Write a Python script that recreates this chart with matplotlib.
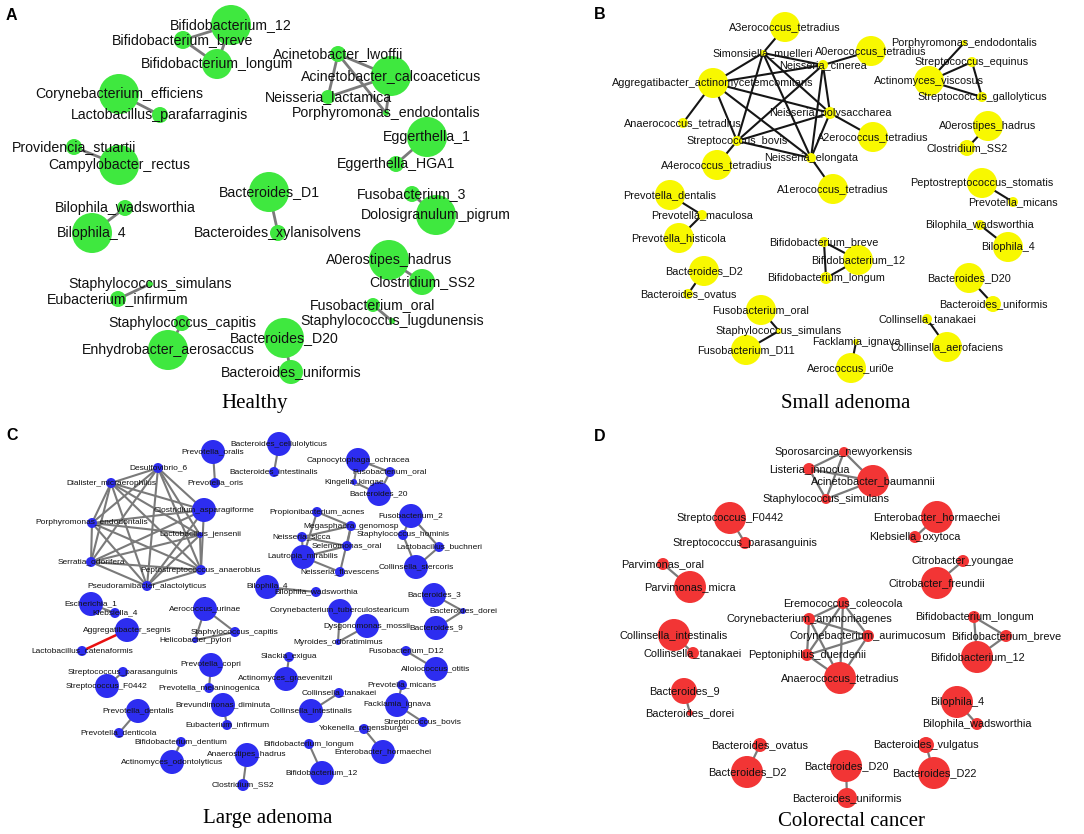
import matplotlib
matplotlib.use("Agg")
import matplotlib.pyplot as plt
from matplotlib.collections import LineCollection, PatchCollection
from matplotlib.patches import Circle

# ---------------- Panel A : Healthy ----------------
names_A = ["Bifidobacterium_12", "Bifidobacterium_breve", "Bifidobacterium_longum",
           "Acinetobacter_lwoffii", "Acinetobacter_calcoaceticus", "Neisseria_lactamica",
           "Porphyromonas_endodontalis", "Corynebacterium_efficiens", "Lactobacillus_parafarraginis",
           "Providencia_stuartii", "Campylobacter_rectus", "Eggerthella_1", "Eggerthella_HGA1",
           "Bacteroides_D1", "Bacteroides_xylanisolvens", "Fusobacterium_3", "Dolosigranulum_pigrum",
           "Bilophila_wadsworthia", "Bilophila_4", "A0erostipes_hadrus", "Clostridium_SS2",
           "Staphylococcus_simulans", "Eubacterium_infirmum", "Fusobacterium_oral",
           "Staphylococcus_lugdunensis", "Staphylococcus_capitis", "Enhydrobacter_aerosaccus",
           "Bacteroides_D20", "Bacteroides_uniformis"]
x_A = [231, 183, 217, 338, 391, 328, 386, 119, 160, 74, 119, 427, 396, 269, 278, 412, 436,
       125, 92, 389, 422, 150, 118, 373, 392, 182, 168, 284, 291]
y_A = [25, 40, 64, 54, 76, 97, 113, 94, 115, 147, 165, 137, 164, 192, 233, 194, 215,
       208, 233, 260, 282, 284, 299, 305, 321, 323, 350, 338, 372]
r_A = [20, 9, 15, 8, 20, 7, 3, 20, 8, 8, 20, 20, 8, 20, 8, 8, 20,
       8, 20, 20, 13, 3, 8, 7, 3, 8, 20, 20, 12]
edges_A = [("Bifidobacterium_12", "Bifidobacterium_breve"),
           ("Bifidobacterium_12", "Bifidobacterium_longum"),
           ("Bifidobacterium_breve", "Bifidobacterium_longum"),
           ("Acinetobacter_lwoffii", "Acinetobacter_calcoaceticus"),
           ("Acinetobacter_lwoffii", "Neisseria_lactamica"),
           ("Acinetobacter_lwoffii", "Porphyromonas_endodontalis"),
           ("Neisseria_lactamica", "Acinetobacter_calcoaceticus"),
           ("Acinetobacter_calcoaceticus", "Porphyromonas_endodontalis"),
           ("Corynebacterium_efficiens", "Lactobacillus_parafarraginis"),
           ("Providencia_stuartii", "Campylobacter_rectus"),
           ("Eggerthella_1", "Eggerthella_HGA1"),
           ("Bacteroides_D1", "Bacteroides_xylanisolvens"),
           ("Fusobacterium_3", "Dolosigranulum_pigrum"),
           ("Bilophila_wadsworthia", "Bilophila_4"),
           ("A0erostipes_hadrus", "Clostridium_SS2"),
           ("Staphylococcus_simulans", "Eubacterium_infirmum"),
           ("Fusobacterium_oral", "Staphylococcus_lugdunensis"),
           ("Staphylococcus_capitis", "Enhydrobacter_aerosaccus"),
           ("Bacteroides_D20", "Bacteroides_uniformis")]

# ---------------- Panel B : Small adenoma ----------------
names_B = ["A3erococcus_tetradius", "Simonsiella_muelleri", "A0erococcus_tetradius",
           "Neisseria_cinerea", "Aggregatibacter_actinomycetemcomitans", "Anaerococcus_tetradius",
           "Neisseria_polysaccharea", "A2erococcus_tetradius", "Streptococcus_bovis",
           "A4erococcus_tetradius", "Neisseria_elongata", "A1erococcus_tetradius",
           "Porphyromonas_endodontalis", "Streptococcus_equinus", "Actinomyces_viscosus",
           "Streptococcus_gallolyticus", "A0erostipes_hadrus", "Clostridium_SS2",
           "Peptostreptococcus_stomatis", "Prevotella_micans", "Prevotella_dentalis",
           "Prevotella_maculosa", "Prevotella_histicola", "Bacteroides_D2", "Bacteroides_ovatus",
           "Bifidobacterium_breve", "Bifidobacterium_12", "Bifidobacterium_longum",
           "Fusobacterium_oral", "Staphylococcus_simulans", "Fusobacterium_D11",
           "Facklamia_ignava", "Aerococcus_uri0e", "Bilophila_wadsworthia", "Bilophila_4",
           "Bacteroides_D20", "Bacteroides_uniformis", "Collinsella_tanakaei",
           "Collinsella_aerofaciens"]
x_B = [785, 763, 871, 823, 713, 683, 830, 873, 737, 717, 811, 833,
       964, 972, 929, 982, 988, 967, 982, 1013, 670, 702, 679, 704, 688,
       824, 858, 826, 761, 779, 746, 856, 851, 980, 1008, 969, 993, 927, 947]
y_B = [27, 53, 51, 65, 83, 123, 113, 137, 141, 165, 158, 189,
       43, 62, 81, 97, 126, 148, 183, 202, 195, 215, 238, 271, 294,
       242, 260, 278, 310, 331, 350, 342, 368, 225, 247, 278, 304, 319, 347]
r_B = [15, 3, 15, 5, 15, 5, 6, 15, 5, 15, 5, 15,
       3, 5, 15, 5, 15, 8, 15, 5, 15, 5, 15, 15, 5,
       5, 15, 6, 15, 3, 15, 3, 15, 5, 15, 15, 8, 5, 15]
edges_B = [("A3erococcus_tetradius", "Simonsiella_muelleri"),
           ("Simonsiella_muelleri", "Aggregatibacter_actinomycetemcomitans"),
           ("Simonsiella_muelleri", "Neisseria_cinerea"),
           ("Simonsiella_muelleri", "Neisseria_polysaccharea"),
           ("Simonsiella_muelleri", "Streptococcus_bovis"),
           ("Simonsiella_muelleri", "Neisseria_elongata"),
           ("Aggregatibacter_actinomycetemcomitans", "Neisseria_cinerea"),
           ("Aggregatibacter_actinomycetemcomitans", "Anaerococcus_tetradius"),
           ("Aggregatibacter_actinomycetemcomitans", "Neisseria_polysaccharea"),
           ("Aggregatibacter_actinomycetemcomitans", "Streptococcus_bovis"),
           ("Aggregatibacter_actinomycetemcomitans", "Neisseria_elongata"),
           ("Neisseria_cinerea", "Streptococcus_bovis"),
           ("Neisseria_cinerea", "Neisseria_elongata"),
           ("Neisseria_cinerea", "Neisseria_polysaccharea"),
           ("Neisseria_cinerea", "A0erococcus_tetradius"),
           ("Neisseria_polysaccharea", "Streptococcus_bovis"),
           ("Neisseria_polysaccharea", "A2erococcus_tetradius"),
           ("Neisseria_polysaccharea", "Neisseria_elongata"),
           ("Streptococcus_bovis", "Neisseria_elongata"),
           ("Streptococcus_bovis", "A4erococcus_tetradius"),
           ("Neisseria_elongata", "A1erococcus_tetradius"),
           ("Porphyromonas_endodontalis", "Actinomyces_viscosus"),
           ("Streptococcus_equinus", "Actinomyces_viscosus"),
           ("Streptococcus_equinus", "Streptococcus_gallolyticus"),
           ("Actinomyces_viscosus", "Streptococcus_gallolyticus"),
           ("A0erostipes_hadrus", "Clostridium_SS2"),
           ("Peptostreptococcus_stomatis", "Prevotella_micans"),
           ("Prevotella_dentalis", "Prevotella_maculosa"),
           ("Prevotella_maculosa", "Prevotella_histicola"),
           ("Bacteroides_D2", "Bacteroides_ovatus"),
           ("Bifidobacterium_breve", "Bifidobacterium_12"),
           ("Bifidobacterium_breve", "Bifidobacterium_longum"),
           ("Bifidobacterium_12", "Bifidobacterium_longum"),
           ("Fusobacterium_oral", "Staphylococcus_simulans"),
           ("Staphylococcus_simulans", "Fusobacterium_D11"),
           ("Facklamia_ignava", "Aerococcus_uri0e"),
           ("Bilophila_wadsworthia", "Bilophila_4"),
           ("Bacteroides_D20", "Bacteroides_uniformis"),
           ("Collinsella_tanakaei", "Collinsella_aerofaciens")]

# ---------------- Panel C : Large adenoma ----------------
names_C = ["Prevotella_oralis", "Prevotella_oris", "Bacteroides_cellulolyticus",
           "Bacteroides_intestinalis", "Desulfovibrio_6", "Dialister_micraerophilus",
           "Clostridium_asparagiforme", "Porphyromonas_endodontalis", "Lactobacillus_jensenii",
           "Serratia_odorifera", "Peptostreptococcus_anaerobius", "Pseudoramibacter_alactolyticus",
           "Escherichia_1", "Klebsiella_4", "Aggregatibacter_segnis", "Lactobacillus_catenaformis",
           "Aerococcus_urinae", "Staphylococcus_capitis", "Helicobacter_pylori",
           "Prevotella_copri", "Prevotella_melaninogenica", "Streptococcus_parasanguinis",
           "Streptococcus_F0442", "Prevotella_dentalis", "Prevotella_denticola",
           "Brevundimonas_diminuta", "Eubacterium_infirmum", "Bifidobacterium_dentium",
           "Actinomyces_odontolyticus", "Anaerostipes_hadrus", "Clostridium_SS2",
           "Capnocytophaga_ochracea", "Fusobacterium_oral", "Kingella_kingae", "Bacteroides_20",
           "Propionibacterium_acnes", "Megasphaera_genomosp", "Neisseria_sicca",
           "Selenomonas_oral", "Lautropia_mirabilis", "Neisseria_flavescens",
           "Fusobacterium_2", "Staphylococcus_hominis", "Lactobacillus_buchneri",
           "Collinsella_stercoris", "Bilophila_4", "Bilophila_wadsworthia",
           "Corynebacterium_tuberculostearicum", "Dysgonomonas_mossii", "Myroides_odoratimimus",
           "Bacteroides_3", "Bacteroides_dorei", "Bacteroides_9", "Fusobacterium_D12",
           "Alloiococcus_otitis", "Slackia_exigua", "Actinomyces_graevenitzii",
           "Prevotella_micans", "Collinsella_tanakaei", "Collinsella_intestinalis",
           "Facklamia_ignava", "Streptococcus_bovis", "Yokenella_regensburgei",
           "Enterobacter_hormaechei", "Bifidobacterium_longum", "Bifidobacterium_12"]
x_C = [213, 215, 279, 274, 158, 111, 204, 92, 200,
       91, 201, 147,
       91, 115, 127, 82,
       205, 235, 195,
       211, 209, 123,
       107, 138, 119,
       223, 227, 181,
       172, 247, 243,
       358, 390, 354, 379,
       317, 351, 302,
       347, 303, 340,
       411, 403, 439,
       416, 267, 316,
       340, 367, 338,
       434, 463, 436, 406,
       436, 289, 286,
       402, 339, 311,
       397, 423, 364,
       383, 309, 322]
y_C = [452, 483, 444, 472, 468, 483, 510, 523, 535,
       562, 570, 586,
       604, 613, 630, 651,
       609, 632, 640,
       665, 688, 672,
       686, 711, 733,
       705, 725, 742,
       762, 755, 785,
       460, 472, 482, 494,
       512, 526, 537,
       546, 557, 572,
       516, 535, 547,
       567, 587, 592,
       611, 626, 642,
       595, 611, 628, 651,
       669, 657, 679,
       685, 693, 711,
       705, 722, 729,
       752, 744, 773]
r_C = [12, 5, 12, 5, 5, 5, 12, 5, 3,
       5, 5, 5,
       12, 5, 12, 5,
       12, 5, 3,
       12, 5, 5,
       12, 12, 5,
       12, 5, 5,
       12, 12, 6,
       12, 5, 3, 12,
       5, 5, 5,
       5, 12, 5,
       12, 5, 5,
       12, 12, 5,
       12, 12, 3,
       12, 3, 12, 5,
       12, 5, 12,
       5, 5, 12,
       12, 5, 5,
       12, 5, 12]
edges_C = [("Prevotella_oralis", "Prevotella_oris"),
           ("Bacteroides_cellulolyticus", "Bacteroides_intestinalis"),
           ("Desulfovibrio_6", "Dialister_micraerophilus"),
           ("Desulfovibrio_6", "Clostridium_asparagiforme"),
           ("Desulfovibrio_6", "Porphyromonas_endodontalis"),
           ("Desulfovibrio_6", "Lactobacillus_jensenii"),
           ("Desulfovibrio_6", "Serratia_odorifera"),
           ("Desulfovibrio_6", "Peptostreptococcus_anaerobius"),
           ("Desulfovibrio_6", "Pseudoramibacter_alactolyticus"),
           ("Dialister_micraerophilus", "Clostridium_asparagiforme"),
           ("Dialister_micraerophilus", "Porphyromonas_endodontalis"),
           ("Dialister_micraerophilus", "Lactobacillus_jensenii"),
           ("Dialister_micraerophilus", "Serratia_odorifera"),
           ("Dialister_micraerophilus", "Peptostreptococcus_anaerobius"),
           ("Dialister_micraerophilus", "Pseudoramibacter_alactolyticus"),
           ("Clostridium_asparagiforme", "Porphyromonas_endodontalis"),
           ("Clostridium_asparagiforme", "Serratia_odorifera"),
           ("Clostridium_asparagiforme", "Peptostreptococcus_anaerobius"),
           ("Clostridium_asparagiforme", "Pseudoramibacter_alactolyticus"),
           ("Porphyromonas_endodontalis", "Lactobacillus_jensenii"),
           ("Porphyromonas_endodontalis", "Serratia_odorifera"),
           ("Porphyromonas_endodontalis", "Peptostreptococcus_anaerobius"),
           ("Porphyromonas_endodontalis", "Pseudoramibacter_alactolyticus"),
           ("Lactobacillus_jensenii", "Serratia_odorifera"),
           ("Lactobacillus_jensenii", "Peptostreptococcus_anaerobius"),
           ("Lactobacillus_jensenii", "Pseudoramibacter_alactolyticus"),
           ("Serratia_odorifera", "Peptostreptococcus_anaerobius"),
           ("Serratia_odorifera", "Pseudoramibacter_alactolyticus"),
           ("Peptostreptococcus_anaerobius", "Pseudoramibacter_alactolyticus"),
           ("Escherichia_1", "Klebsiella_4"),
           ("Aerococcus_urinae", "Staphylococcus_capitis"),
           ("Aerococcus_urinae", "Helicobacter_pylori"),
           ("Staphylococcus_capitis", "Helicobacter_pylori"),
           ("Prevotella_copri", "Prevotella_melaninogenica"),
           ("Streptococcus_parasanguinis", "Streptococcus_F0442"),
           ("Prevotella_dentalis", "Prevotella_denticola"),
           ("Brevundimonas_diminuta", "Eubacterium_infirmum"),
           ("Bifidobacterium_dentium", "Actinomyces_odontolyticus"),
           ("Anaerostipes_hadrus", "Clostridium_SS2"),
           ("Capnocytophaga_ochracea", "Fusobacterium_oral"),
           ("Fusobacterium_oral", "Bacteroides_20"),
           ("Capnocytophaga_ochracea", "Kingella_kingae"),
           ("Kingella_kingae", "Bacteroides_20"),
           ("Propionibacterium_acnes", "Megasphaera_genomosp"),
           ("Propionibacterium_acnes", "Lautropia_mirabilis"),
           ("Neisseria_sicca", "Megasphaera_genomosp"),
           ("Neisseria_sicca", "Lautropia_mirabilis"),
           ("Neisseria_sicca", "Selenomonas_oral"),
           ("Megasphaera_genomosp", "Selenomonas_oral"),
           ("Megasphaera_genomosp", "Neisseria_flavescens"),
           ("Selenomonas_oral", "Lautropia_mirabilis"),
           ("Lautropia_mirabilis", "Neisseria_flavescens"),
           ("Fusobacterium_2", "Staphylococcus_hominis"),
           ("Fusobacterium_2", "Lactobacillus_buchneri"),
           ("Lactobacillus_buchneri", "Collinsella_stercoris"),
           ("Staphylococcus_hominis", "Collinsella_stercoris"),
           ("Bilophila_4", "Bilophila_wadsworthia"),
           ("Corynebacterium_tuberculostearicum", "Myroides_odoratimimus"),
           ("Dysgonomonas_mossii", "Myroides_odoratimimus"),
           ("Bacteroides_3", "Bacteroides_dorei"),
           ("Bacteroides_dorei", "Bacteroides_9"),
           ("Fusobacterium_D12", "Alloiococcus_otitis"),
           ("Slackia_exigua", "Actinomyces_graevenitzii"),
           ("Prevotella_micans", "Facklamia_ignava"),
           ("Collinsella_tanakaei", "Collinsella_intestinalis"),
           ("Facklamia_ignava", "Streptococcus_bovis"),
           ("Yokenella_regensburgei", "Enterobacter_hormaechei"),
           ("Bifidobacterium_longum", "Bifidobacterium_12")]
neg_edges_C = [("Aggregatibacter_segnis", "Lactobacillus_catenaformis")]

# ---------------- Panel D : Colorectal cancer ----------------
names_D = ["Sporosarcina_newyorkensis", "Listeria_innocua", "Acinetobacter_baumannii",
           "Staphylococcus_simulans", "Streptococcus_F0442", "Streptococcus_parasanguinis",
           "Enterobacter_hormaechei", "Klebsiella_oxytoca", "Parvimonas_oral", "Parvimonas_micra",
           "Citrobacter_youngae", "Citrobacter_freundii", "Eremococcus_coleocola",
           "Corynebacterium_ammoniagenes", "Bifidobacterium_longum", "Collinsella_intestinalis",
           "Collinsella_tanakaei", "Corynebacterium_aurimucosum", "Peptoniphilus_duerdenii",
           "Anaerococcus_tetradius", "Bifidobacterium_breve", "Bifidobacterium_12",
           "Bacteroides_9", "Bacteroides_dorei", "Bilophila_4", "Bilophila_wadsworthia",
           "Bacteroides_ovatus", "Bacteroides_D2", "Bacteroides_D20", "Bacteroides_uniformis",
           "Bacteroides_vulgatus", "Bacteroides_D22"]
x_D = [844, 809, 873, 826, 730, 745, 937, 915, 663, 690, 963, 937, 843,
       809, 974, 674, 693, 868, 807, 840, 1006, 977,
       684, 690, 957, 977, 760, 747, 846, 847, 926, 934]
y_D = [452, 469, 481, 499, 518, 543, 517, 537, 564, 587, 561, 583, 603,
       619, 617, 635, 653, 636, 655, 678, 636, 657,
       691, 713, 702, 724, 745, 772, 766, 798, 745, 773]
r_D = [5, 6, 16, 5, 16, 6, 16, 6, 6, 16, 6, 16, 6,
       6, 6, 16, 6, 6, 6, 16, 6, 16,
       13, 3, 16, 6, 7, 16, 16, 10, 8, 16]
edges_D = [("Sporosarcina_newyorkensis", "Listeria_innocua"),
           ("Sporosarcina_newyorkensis", "Acinetobacter_baumannii"),
           ("Sporosarcina_newyorkensis", "Staphylococcus_simulans"),
           ("Listeria_innocua", "Acinetobacter_baumannii"),
           ("Listeria_innocua", "Staphylococcus_simulans"),
           ("Staphylococcus_simulans", "Acinetobacter_baumannii"),
           ("Streptococcus_F0442", "Streptococcus_parasanguinis"),
           ("Enterobacter_hormaechei", "Klebsiella_oxytoca"),
           ("Parvimonas_oral", "Parvimonas_micra"),
           ("Citrobacter_youngae", "Citrobacter_freundii"),
           ("Eremococcus_coleocola", "Corynebacterium_ammoniagenes"),
           ("Eremococcus_coleocola", "Corynebacterium_aurimucosum"),
           ("Eremococcus_coleocola", "Peptoniphilus_duerdenii"),
           ("Eremococcus_coleocola", "Anaerococcus_tetradius"),
           ("Corynebacterium_ammoniagenes", "Peptoniphilus_duerdenii"),
           ("Corynebacterium_ammoniagenes", "Anaerococcus_tetradius"),
           ("Corynebacterium_ammoniagenes", "Corynebacterium_aurimucosum"),
           ("Corynebacterium_aurimucosum", "Anaerococcus_tetradius"),
           ("Corynebacterium_aurimucosum", "Peptoniphilus_duerdenii"),
           ("Peptoniphilus_duerdenii", "Anaerococcus_tetradius"),
           ("Bifidobacterium_longum", "Bifidobacterium_breve"),
           ("Bifidobacterium_longum", "Bifidobacterium_12"),
           ("Bifidobacterium_breve", "Bifidobacterium_12"),
           ("Collinsella_intestinalis", "Collinsella_tanakaei"),
           ("Bacteroides_9", "Bacteroides_dorei"),
           ("Bilophila_4", "Bilophila_wadsworthia"),
           ("Bacteroides_ovatus", "Bacteroides_D2"),
           ("Bacteroides_D20", "Bacteroides_uniformis"),
           ("Bacteroides_vulgatus", "Bacteroides_D22")]

panel_letters = ["A", "B", "C", "D"]
panel_titles = ["Healthy", "Small adenoma", "Large adenoma", "Colorectal cancer"]

# ---------------- drawing ----------------
W, H = 1084, 834
fig = plt.figure(figsize=(W / 100, H / 100), dpi=100)
ax = fig.add_axes([0, 0, 1, 1])
ax.set_xlim(0, W)
ax.set_ylim(H, 0)
ax.set_aspect('equal')
ax.axis('off')

SANS = ['Liberation Sans', 'DejaVu Sans']
SERIF = ['Liberation Serif', 'DejaVu Serif']


def draw_network(names, xs, ys, rs, edges, node_color, edge_color, fsize, lw,
                 extra_edges=None, extra_color=None):
    pos = {n: (x, y) for n, x, y in zip(names, xs, ys)}
    segs = [[pos[a], pos[b]] for a, b in edges]
    ax.add_collection(LineCollection(segs, colors=edge_color, linewidths=lw, zorder=1))
    if extra_edges:
        segs2 = [[pos[a], pos[b]] for a, b in extra_edges]
        ax.add_collection(LineCollection(segs2, colors=extra_color, linewidths=lw + 0.3, zorder=1))
    circles = [Circle((x, y), r) for x, y, r in zip(xs, ys, rs)]
    ax.add_collection(PatchCollection(circles, facecolor=node_color, edgecolor='none', zorder=2))
    for n, x, y in zip(names, xs, ys):
        ax.text(x, y, n, ha='center', va='center', fontsize=fsize, family=SANS,
                color='#111111', zorder=3)


draw_network(names_A, x_A, y_A, r_A, edges_A, '#3fe83f', '#7a7a7a', 10.2, 2.0)
draw_network(names_B, x_B, y_B, r_B, edges_B, '#f8f800', '#151515', 7.8, 1.5)
draw_network(names_C, x_C, y_C, r_C, edges_C, '#2d2df0', '#7a7a7a', 6.0, 1.5,
             extra_edges=neg_edges_C, extra_color='#e81010')
draw_network(names_D, x_D, y_D, r_D, edges_D, '#f23535', '#7a7a7a', 7.9, 1.6)

letter_xy = [(6, 15), (594, 14), (6, 435), (594, 436)]
title_xy = [(255, 403), (846, 403), (268, 818), (852, 822)]
for (lx, ly), lt in zip(letter_xy, panel_letters):
    ax.text(lx, ly, lt, ha='left', va='center', fontsize=11.5, fontweight='bold', family=SANS)
for (tx, ty), tt in zip(title_xy, panel_titles):
    ax.text(tx, ty, tt, ha='center', va='center', fontsize=15, family=SERIF)

fig.savefig("out.png", dpi=100)
